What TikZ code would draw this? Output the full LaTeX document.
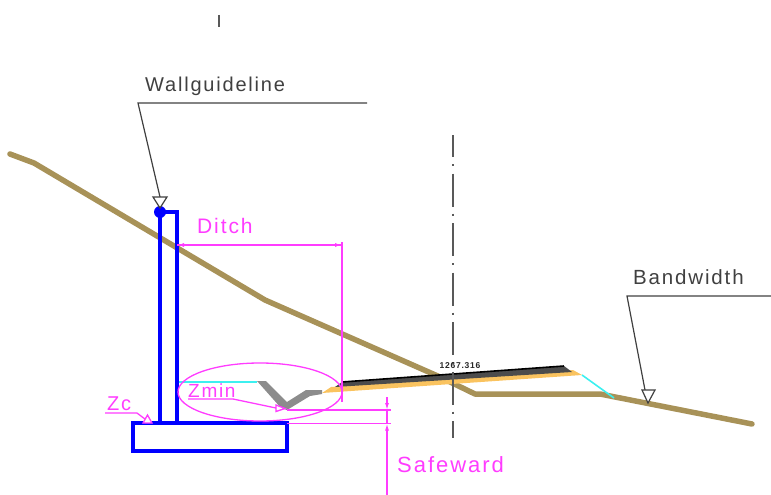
\documentclass[tikz,border=0pt]{standalone}
\usepackage{fontspec}
\setmainfont[LetterSpace=9]{Liberation Sans}
\usetikzlibrary{arrows.meta,shapes}
\definecolor{earth}{RGB}{168,146,88}
\definecolor{pave}{RGB}{250,195,95}
\definecolor{mag}{RGB}{255,60,255}
\definecolor{cy}{RGB}{60,240,240}
\begin{document}
\begin{tikzpicture}[x=1pt,y=-1pt]
            \tikzstyle{lbl}=[anchor=base west,inner sep=0pt,font=\fontsize{20}{20}\selectfont]
            \tikzstyle{dim}=[mag,line width=1.3pt]
            \tikzstyle{lead}=[black!75,line width=1.2pt]
            \tikzstyle{tri}=[draw=black!75,fill=white,line width=1.2pt]
            \tikzstyle{wall}=[blue,line width=3.6pt]
            \tikzstyle{tick}=[-{Latex[length=7pt,width=4pt]}]
            \useasboundingbox (0,0) rectangle (771,495);

            % ground and road
            \coordinate (g1) at (10,154);
            \coordinate (g2) at (34,163);
            \coordinate (g3) at (265,300);
            \coordinate (g4) at (440,377);
            \coordinate (g5) at (475,394);
            \coordinate (g6) at (600,394);
            \coordinate (g7) at (752,424);
            \draw [earth,line width=5.5pt,line cap=round,line join=round] (g1) -- (g2) -- (g3) -- (g4) -- (g5) -- (g6) -- (g7);
            \fill [pave] (322,393) -- (331,387) -- (573,370) -- (582,375) -- cycle;
            \fill [black!70] (342,382) -- (564,366) -- (572,372) -- (335,387) -- cycle;
            \draw [black,line width=1.6pt] (342,382) -- (564,366);
            \fill [black!45] (257,381) -- (266,381) -- (287,402) -- (306,390) -- (322,390) -- (322,394) -- (310,396) -- (287,410) -- (281,408) -- cycle;
            \draw [cy,line width=1.6pt] (178,382) -- (257,382);
            \draw [cy,line width=1.6pt] (582,375) -- (614,398);

            % center line
            \coordinate (c1) at (453,135);
            \coordinate (c2) at (453,438);
            \draw [black!65,line width=1.5pt,dash pattern=on 33pt off 7pt on 2pt off 7.5pt,dash phase=11pt] (c1) -- (c2);
            \coordinate (t1) at (219,15);
            \coordinate (t2) at (219,27);
            \draw [black!65,line width=1.2pt] (t1) -- (t2);

            % wall
            \draw [wall] (160,423) -- (160,212) -- (177,212) -- (177,423);
            \draw [wall] (133,423) rectangle (287,451);
            \node [circle,fill=blue,minimum size=12pt,inner sep=0pt] (top) at (160,212) {};

            % ditch and safeward
            \node [ellipse,draw=mag,line width=1.3pt,minimum width=164pt,minimum height=58pt,inner sep=0pt] (oval) at (260,392) {};
            \coordinate (d1) at (177,245);
            \coordinate (d2) at (342,245);
            \coordinate (d3) at (342,242);
            \coordinate (d4) at (342,402);
            \draw [dim,tick] (d2) -- (d1);
            \draw [dim,tick] (d1) -- (d2);
            \draw [dim] (d3) -- (d4);
            \node [lbl,mag,font=\fontsize{21}{21}\selectfont] (ditch) at (197,233) {Ditch};
            \coordinate (s1) at (287,410);
            \coordinate (s2) at (391,410);
            \coordinate (s3) at (287,423.5);
            \coordinate (s4) at (391,423.5);
            \coordinate (s5) at (387,397);
            \coordinate (s6) at (387,410);
            \coordinate (s7) at (387,495);
            \coordinate (s8) at (387,423.5);
            \draw [dim] (s1) -- (s2);
            \draw [dim] (s3) -- (s4);
            \draw [dim,tick] (s5) -- (s6);
            \draw [dim,tick] (s7) -- (s8);
            \draw [dim] (s6) -- (s8);
            \node [lbl,mag,font=\fontsize{22}{22}\selectfont] (safe) at (397,472) {Safeward};

            % Zmin and Zc
            \node [lbl,mag,font=\fontsize{19}{19}\selectfont] (zmin) at (188,397) {Zmin};
            \coordinate (z1) at (188,399);
            \coordinate (z2) at (233,399);
            \coordinate (z3) at (276,408);
            \draw [dim] (z1) -- (z2) -- (z3);
            \draw [mag,fill=white,line width=1.3pt] (276,405) -- (285,408.5) -- (276,411.5) -- cycle;
            \node [lbl,mag] (zc) at (107,410) {Zc};
            \coordinate (k1) at (105,413);
            \coordinate (k2) at (137,413);
            \coordinate (k3) at (145,419);
            \draw [dim] (k1) -- (k2) -- (k3);
            \draw [mag,fill=white,line width=1.3pt] (147.5,415) -- (152,423) -- (143,423) -- cycle;

            % leaders
            \node [lbl,black!75] (wg) at (145,92) {Wallguideline};
            \coordinate (w1) at (367,103);
            \coordinate (w2) at (138,103);
            \coordinate (w3) at (160,197);
            \draw [lead] (w1) -- (w2) -- (w3);
            \draw [tri] (153,197) -- (167,197) -- (160,208) -- cycle;
            \node [lbl,black!75,font=\fontsize{20.5}{20.5}\selectfont] (bw) at (633,284) {Bandwidth};
            \coordinate (b1) at (771,296);
            \coordinate (b2) at (627,296);
            \coordinate (b3) at (645,390);
            \draw [lead] (b1) -- (b2) -- (b3);
            \draw [tri] (642,390) -- (655,390) -- (648,403) -- cycle;
            \node [inner sep=0pt,font=\fontsize{8.5}{8.5}\bfseries\selectfont,black!85] (stat) at (460,366) {1267.316};
\end{tikzpicture}
\end{document}
